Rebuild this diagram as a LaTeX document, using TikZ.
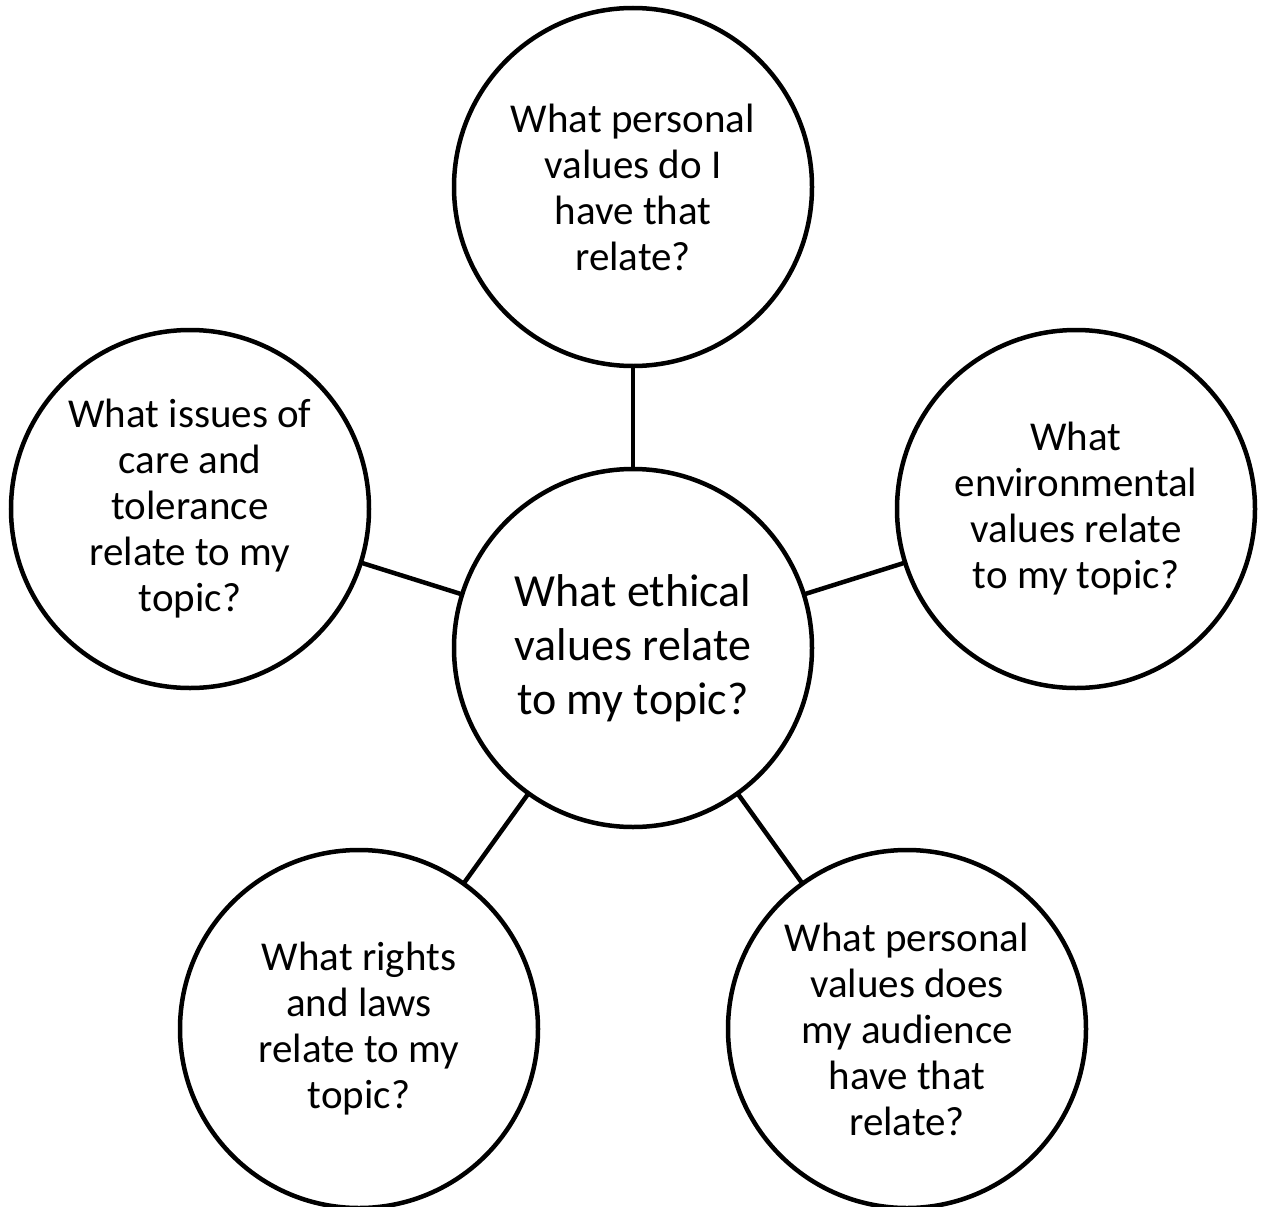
\documentclass[tikz,border=0pt]{standalone}
\usepackage{fontspec}
\setmainfont{Carlito}
\begin{document}
\begin{tikzpicture}[x=1pt,y=-1pt,
  bubble/.style={circle,draw=black,line width=4.5pt,minimum size=358pt,inner sep=0pt,outer sep=0pt,align=center,text=black,font=\fontsize{41}{46}\selectfont},
  hub/.style={bubble,font=\fontsize{46}{54}\selectfont},
  link/.style={draw=black,line width=4.5pt}]
\useasboundingbox (0,0) rectangle (1261,1207);
\node[hub] (c) at (633,648) {What ethical\\values relate\\to my topic?};
\node[bubble] (t) at (633,187) {What personal\\values do I\\have that\\relate?};
\node[bubble] (l) at (190,509) {What issues of\\care and\\tolerance\\relate to my\\topic?};
\node[bubble] (r) at (1076,509) {What\\environmental\\values relate\\to my topic?};
\node[bubble] (bl) at (359,1029) {What rights\\and laws\\relate to my\\topic?};
\node[bubble] (br) at (907,1029) {What personal\\values does\\my audience\\have that\\relate?};
\draw[link] (c) -- (t);
\draw[link] (c) -- (l);
\draw[link] (c) -- (r);
\draw[link] (c) -- (bl);
\draw[link] (c) -- (br);
\end{tikzpicture}
\end{document}
